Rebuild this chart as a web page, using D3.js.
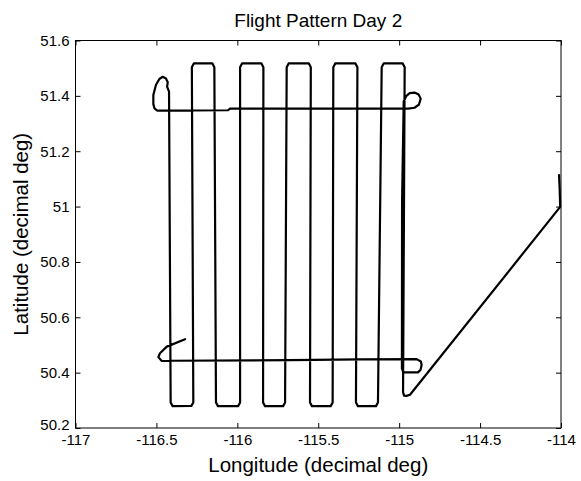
<!DOCTYPE html>
<html>
<head>
<meta charset="utf-8">
<script src="https://cdn.jsdelivr.net/npm/d3@7/dist/d3.min.js"></script>
<style>
  html, body { margin: 0; padding: 0; background: #fff; }
  svg { display: block; }
</style>
</head>
<body>
<script>
// ---- data ----
const chartTitle = "Flight Pattern Day 2";
const xLabel = "Longitude (decimal deg)";
const yLabel = "Latitude (decimal deg)";
const xTicks = [-117, -116.5, -116, -115.5, -115, -114.5, -114];
const yTicks = [50.2, 50.4, 50.6, 50.8, 51, 51.2, 51.4, 51.6];

// flight track, in order
const trackLon = [
  -116.323, -116.436, -116.478, -116.488, -116.467, -116.416,
  -115.675, -115.242, -114.892,
  -114.866, -114.861, -114.868, -114.884, -114.974, -114.983,
  -114.982, -114.972,
  -114.955, -114.935, -114.905, -114.880, -114.867, -114.878, -114.905, -114.945,
  -116.045, -116.058, -116.496,
  -116.512, -116.519, -116.519, -116.503, -116.482, -116.461, -116.441, -116.430, -116.434, -116.422,
  -116.412, -116.400, -116.284, -116.272,
  -116.281, -116.269, -116.154, -116.142,
  -116.132, -116.120, -115.995, -115.983,
  -115.983, -115.971, -115.851, -115.839,
  -115.841, -115.829, -115.717, -115.705,
  -115.695, -115.683, -115.558, -115.546,
  -115.551, -115.539, -115.423, -115.411,
  -115.407, -115.395, -115.270, -115.258,
  -115.267, -115.255, -115.143, -115.131,
  -115.108, -115.096, -114.978, -114.966,
  -114.976, -114.970, -114.955, -114.933,
  -114.005, -114.008, -114.012
];
const trackLat = [
  50.521, 50.494, 50.470, 50.456, 50.442, 50.443,
  50.445, 50.448, 50.449,
  50.440, 50.428, 50.410, 50.401, 50.401, 50.415,
  51.020, 51.380,
  51.400, 51.410, 51.412, 51.405, 51.390, 51.368, 51.357, 51.354,
  51.354, 51.348, 51.347,
  51.355, 51.370, 51.403, 51.439, 51.461, 51.469, 51.463, 51.449, 51.433, 51.415,
  50.292, 50.279, 50.280, 50.292,
  51.503, 51.517, 51.517, 51.503,
  50.292, 50.279, 50.279, 50.292,
  51.503, 51.517, 51.517, 51.503,
  50.292, 50.279, 50.279, 50.292,
  51.503, 51.517, 51.517, 51.503,
  50.292, 50.279, 50.279, 50.292,
  51.503, 51.517, 51.517, 51.503,
  50.292, 50.279, 50.279, 50.292,
  51.503, 51.517, 51.517, 51.503,
  50.330, 50.317, 50.316, 50.320,
  50.999, 51.060, 51.114
];

// ---- drawing ----
const W = 581, H = 481;
const mLeft = 75.5, mRight = 561, mTop = 40.5, mBottom = 428;
const font = "'Liberation Sans', Arial, sans-serif";

const svg = d3.select("body").append("svg").attr("width", W).attr("height", H);

const x = d3.scaleLinear().domain([-117, -114]).range([mLeft, mRight]);
const y = d3.scaleLinear().domain([50.2, 51.6]).range([mBottom, mTop]);

const fmt = d => String(d);

function styleAxis(g, showLabels) {
  g.selectAll(".domain").remove();
  g.selectAll(".tick line").attr("stroke", "#000").attr("stroke-width", 1);
  g.selectAll(".tick text")
    .attr("fill", "#000")
    .style("font-family", font)
    .style("font-size", "15px")
    .style("display", showLabels ? null : "none");
}

svg.append("g").attr("transform", `translate(0,${mBottom})`)
  .call(d3.axisBottom(x).tickValues(xTicks).tickFormat(fmt).tickSizeInner(-5).tickSizeOuter(0).tickPadding(6))
  .call(g => styleAxis(g, true));
svg.append("g").attr("transform", `translate(0,${mTop})`)
  .call(d3.axisTop(x).tickValues(xTicks).tickSizeInner(-5).tickSizeOuter(0))
  .call(g => styleAxis(g, false));
svg.append("g").attr("transform", `translate(${mLeft},0)`)
  .call(d3.axisLeft(y).tickValues(yTicks).tickFormat(fmt).tickSizeInner(-5).tickSizeOuter(0).tickPadding(6))
  .call(g => styleAxis(g, true));
svg.append("g").attr("transform", `translate(${mRight},0)`)
  .call(d3.axisRight(y).tickValues(yTicks).tickSizeInner(-5).tickSizeOuter(0))
  .call(g => styleAxis(g, false));

// nudge the bottom-left y label up a little so it clears "-117"
svg.selectAll("g .tick text").filter(d => d === 50.2).attr("dy", "0.1em");

svg.append("rect")
  .attr("x", mLeft).attr("y", mTop)
  .attr("width", mRight - mLeft).attr("height", mBottom - mTop)
  .attr("fill", "none").attr("stroke", "#000").attr("stroke-width", 1);

const track = trackLon.map((lon, i) => [lon, trackLat[i]]);
svg.append("path")
  .datum(track)
  .attr("fill", "none")
  .attr("stroke", "#000")
  .attr("stroke-width", 2.2)
  .attr("stroke-linejoin", "round")
  .attr("stroke-linecap", "round")
  .attr("d", d3.line().x(d => x(d[0])).y(d => y(d[1])));

svg.append("text")
  .attr("x", (mLeft + mRight) / 2).attr("y", 27)
  .attr("text-anchor", "middle")
  .style("font-family", font).style("font-size", "19px")
  .text(chartTitle);

svg.append("text")
  .attr("x", (mLeft + mRight) / 2).attr("y", 472)
  .attr("text-anchor", "middle")
  .style("font-family", font).style("font-size", "20.5px")
  .text(xLabel);

svg.append("text")
  .attr("transform", `translate(28,${(mTop + mBottom) / 2}) rotate(-90)`)
  .attr("text-anchor", "middle")
  .style("font-family", font).style("font-size", "20.5px")
  .text(yLabel);
</script>
</body>
</html>
